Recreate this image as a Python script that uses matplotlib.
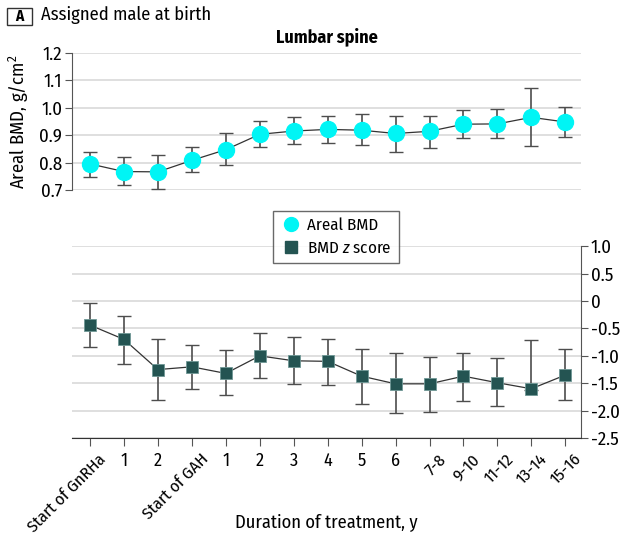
import matplotlib
matplotlib.use("Agg")
import numpy as np
from matplotlib import pyplot as plt
from matplotlib.patches import Rectangle
from matplotlib.lines import Line2D
from matplotlib.transforms import ScaledTranslation

plt.rcParams['font.family'] = ['Fira Sans Condensed', 'Roboto Condensed',
                               'Barlow Semi Condensed', 'Liberation Sans', 'DejaVu Sans']
plt.rcParams['mathtext.fontset'] = 'custom'
plt.rcParams['mathtext.rm'] = 'Fira Sans Condensed'
plt.rcParams['mathtext.it'] = 'Fira Sans Condensed:italic'

labels = ['Start of GnRHa', '1', '2', 'Start of GAH', '1', '2', '3', '4', '5', '6',
          '7-8', '9-10', '11-12', '13-14', '15-16']

bmd = [0.795, 0.767, 0.766, 0.808, 0.847, 0.903, 0.915, 0.921, 0.918, 0.906,
       0.914, 0.940, 0.941, 0.965, 0.948]
bmd_hi = [0.840, 0.819, 0.826, 0.856, 0.909, 0.951, 0.966, 0.971, 0.978, 0.970,
          0.971, 0.991, 0.995, 1.073, 1.004]
bmd_lo = [0.749, 0.717, 0.704, 0.765, 0.790, 0.856, 0.868, 0.873, 0.863, 0.840,
          0.854, 0.889, 0.891, 0.862, 0.893]

zscore = [-0.44, -0.70, -1.25, -1.20, -1.32, -1.00, -1.09, -1.10, -1.37, -1.51,
          -1.51, -1.37, -1.49, -1.60, -1.35]
z_hi = [-0.03, -0.28, -0.70, -0.80, -0.90, -0.59, -0.66, -0.69, -0.88, -0.94,
        -1.02, -0.95, -1.04, -0.71, -0.87]
z_lo = [-0.84, -1.14, -1.80, -1.61, -1.71, -1.41, -1.51, -1.54, -1.87, -2.05,
        -2.02, -1.82, -1.92, -1.63, -1.81]

CYAN = '#00f5f5'
TEAL = '#245452'
ERR = '#4d4d4d'
GRID = '#d9d9d9'
AX = '#555555'
FS = 13

x = np.arange(len(labels))

fig = plt.figure(figsize=(6.21, 5.35), dpi=100)
ax1 = fig.add_axes([0.116, 0.645, 0.82, 0.256])
ax2 = fig.add_axes([0.116, 0.181, 0.82, 0.359])

# top panel: areal BMD
yerr1 = [np.array(bmd) - np.array(bmd_lo), np.array(bmd_hi) - np.array(bmd)]
ax1.errorbar(x, bmd, yerr=yerr1, fmt='none', ecolor=ERR, elinewidth=1.2,
             capsize=5, capthick=1, zorder=3)
ax1.plot(x, bmd, color='#333333', lw=0.9, zorder=2)
ax1.plot(x, bmd, 'o', color=CYAN, ms=11.5, mec=CYAN, zorder=4)
ax1.set_xlim(-0.53, 14.47)
ax1.set_ylim(0.7, 1.2)
ax1.set_yticks(np.arange(0.7, 1.21, 0.1))
ax1.set_yticklabels([f'{v:.1f}' for v in np.arange(0.7, 1.21, 0.1)])
ax1.grid(axis='y', color=GRID, lw=1.2)
ax1.set_axisbelow(True)
for s in ['top', 'right', 'bottom']:
    ax1.spines[s].set_visible(False)
ax1.spines['left'].set_color(AX)
ax1.tick_params(axis='y', labelsize=FS + 0.5, length=5, color=AX, pad=2)
ax1.tick_params(axis='x', bottom=False, labelbottom=False)
ax1.set_ylabel('Areal BMD, g/cm$^2$', fontsize=FS + 0.5, labelpad=6)
ax1.set_title('Lumbar spine', fontsize=FS, fontweight='bold', pad=8)

# bottom panel: z score
yerr2 = [np.array(zscore) - np.array(z_lo), np.array(z_hi) - np.array(zscore)]
ax2.errorbar(x, zscore, yerr=yerr2, fmt='none', ecolor=ERR, elinewidth=1.2,
             capsize=5, capthick=1, zorder=3)
ax2.plot(x, zscore, color='#333333', lw=0.9, zorder=2)
ax2.plot(x, zscore, 's', color=TEAL, ms=8.5, mec='#6f9896', mew=0.6, zorder=4)
ax2.set_xlim(-0.53, 14.47)
ax2.set_ylim(-2.5, 1.0)
yt = np.arange(-2.5, 1.01, 0.5)
ax2.set_yticks(yt)
ax2.set_yticklabels(['0' if abs(v) < 1e-9 else f'{v:.1f}' for v in yt])
ax2.yaxis.tick_right()
ax2.grid(axis='y', color=GRID, lw=1.2)
ax2.set_axisbelow(True)
for s in ['top', 'left']:
    ax2.spines[s].set_visible(False)
ax2.spines['right'].set_color(AX)
ax2.spines['bottom'].set_color('#333333')
ax2.tick_params(axis='y', labelsize=FS + 0.5, length=5, color=AX, pad=2)
ax2.tick_params(axis='x', length=6, color=AX, pad=4)
ax2.set_xticks(x)
ax2.set_xticklabels(labels, fontsize=FS)
shift = ScaledTranslation(0.08, 0.01, fig.dpi_scale_trans)
for t, lab in zip(ax2.get_xticklabels(), labels):
    if len(lab) > 1:
        t.set_rotation(45)
        t.set_fontsize(12.3)
        t.set_ha('right')
        t.set_va('top')
        t.set_rotation_mode('anchor')
        t.set_transform(t.get_transform() + shift)
ax2.set_xlabel('Duration of treatment, y', fontsize=FS + 0.3)
ax2.xaxis.set_label_coords(0.5, -0.39)

# legend
handles = [Line2D([], [], marker='o', ls='none', color=CYAN, ms=10),
           Line2D([], [], marker='s', ls='none', color=TEAL, ms=8)]
fig.legend(handles, ['Areal BMD', 'BMD $z$ score'], loc='center',
           bbox_to_anchor=(336 / 621, 1 - 237 / 535), fontsize=12.2,
           frameon=True, fancybox=False, edgecolor='#444444',
           handletextpad=0.3, borderpad=0.4, labelspacing=0.4, handlelength=1.3)

# panel header
fig.patches.append(Rectangle((7 / 621, 1 - 25 / 535), 25 / 621, 17 / 535,
                             transform=fig.transFigure, fill=False,
                             edgecolor='#333333', lw=1))
fig.text(19.5 / 621, 1 - 16.5 / 535, 'A', fontsize=11, fontweight='bold',
         ha='center', va='center')
fig.text(41 / 621, 1 - 15 / 535, 'Assigned male at birth', fontsize=FS + 0.3,
         ha='left', va='center')

fig.savefig('out.png', dpi=100)
